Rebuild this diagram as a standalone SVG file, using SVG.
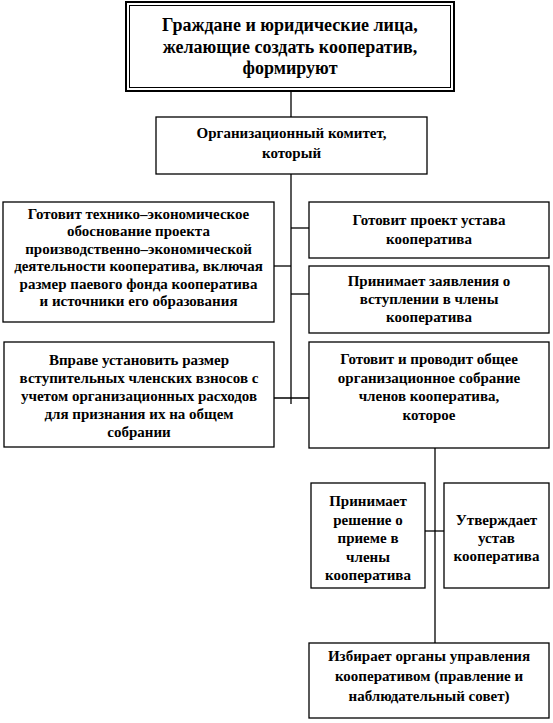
<svg xmlns="http://www.w3.org/2000/svg" width="553" height="723" viewBox="0 0 553 723">
<style>
.box{fill:#fff;stroke:#000;stroke-width:1.3}
.ln{stroke:#000;stroke-width:1.3;fill:none}
text{font-family:'Liberation Serif', 'Times New Roman', serif;font-weight:bold;fill:#000;text-anchor:middle}
.t{font-size:15px}
.big{font-size:18px}
</style>
<rect width="553" height="723" fill="#fff"/>
<g id="connectors">
<line class="ln" x1="291" y1="91" x2="291" y2="117"/>
<line class="ln" x1="291" y1="174" x2="291" y2="404"/>
<line class="ln" x1="291" y1="228" x2="309" y2="228"/>
<line class="ln" x1="274" y1="266" x2="291" y2="266"/>
<line class="ln" x1="291" y1="294" x2="309" y2="294"/>
<line class="ln" x1="274" y1="398" x2="309" y2="398"/>
<line class="ln" x1="435" y1="448" x2="435" y2="643"/>
<line class="ln" x1="425" y1="531" x2="444" y2="531"/>
</g>
<g id="n-top">
<rect x="126" y="2" width="328" height="89" fill="#fff" stroke="#000" stroke-width="2"/>
<rect x="129.5" y="5.5" width="321" height="82" fill="none" stroke="#000" stroke-width="1"/>
<text class="big" x="290" y="31" font-family="Liberation Serif">Граждане и юридические лица,</text>
<text class="big" x="290" y="53">желающие создать кооператив,</text>
<text class="big" x="290" y="74">формируют</text>
</g>
<g id="n-committee">
<rect class="box" x="156" y="117" width="271" height="57"/>
<text class="t" x="291.5" y="138">Организационный комитет,</text>
<text class="t" x="291.5" y="158">который</text>
</g>
<g id="n-left1">
<rect class="box" x="3" y="202" width="271" height="120"/>
<text class="t" x="138.5" y="218.5">Готовит технико–экономическое</text>
<text class="t" x="138.5" y="236">обоснование проекта</text>
<text class="t" x="138.5" y="253.5">производственно–экономической</text>
<text class="t" x="138.5" y="271">деятельности кооператива, включая</text>
<text class="t" x="138.5" y="288.5">размер паевого фонда кооператива</text>
<text class="t" x="138.5" y="306">и источники его образования</text>
</g>
<g id="n-right1">
<rect class="box" x="309" y="202" width="240" height="56"/>
<text class="t" x="429" y="225">Готовит проект устава</text>
<text class="t" x="429" y="244">кооператива</text>
</g>
<g id="n-right2">
<rect class="box" x="309" y="266" width="240" height="67"/>
<text class="t" x="429" y="286">Принимает заявления о</text>
<text class="t" x="429" y="304">вступлении в члены</text>
<text class="t" x="429" y="322">кооператива</text>
</g>
<g id="n-left2">
<rect class="box" x="4" y="342" width="270" height="105"/>
<text class="t" x="139" y="365">Вправе установить размер</text>
<text class="t" x="139" y="383">вступительных членских взносов с</text>
<text class="t" x="139" y="401">учетом организационных расходов</text>
<text class="t" x="139" y="419">для признания их на общем</text>
<text class="t" x="139" y="437">собрании</text>
</g>
<g id="n-right3">
<rect class="box" x="309" y="342" width="240" height="106"/>
<text class="t" x="429" y="364">Готовит и проводит общее</text>
<text class="t" x="429" y="382.5">организационное собрание</text>
<text class="t" x="429" y="401">членов кооператива,</text>
<text class="t" x="429" y="419.5">которое</text>
</g>
<g id="n-admit">
<rect class="box" x="311" y="483" width="114" height="105"/>
<text class="t" x="368" y="506">Принимает</text>
<text class="t" x="368" y="524.5">решение о</text>
<text class="t" x="368" y="543">приеме в</text>
<text class="t" x="368" y="561.5">члены</text>
<text class="t" x="368" y="580">кооператива</text>
</g>
<g id="n-approve">
<rect class="box" x="444" y="483" width="105" height="105"/>
<text class="t" x="496.5" y="525">Утверждает</text>
<text class="t" x="496.5" y="543">устав</text>
<text class="t" x="496.5" y="561">кооператива</text>
</g>
<g id="n-elect">
<rect class="box" x="309" y="643" width="240" height="75"/>
<text class="t" x="429" y="661">Избирает органы управления</text>
<text class="t" x="429" y="681">кооперативом (правление и</text>
<text class="t" x="429" y="701">наблюдательный совет)</text>
</g>
</svg>
